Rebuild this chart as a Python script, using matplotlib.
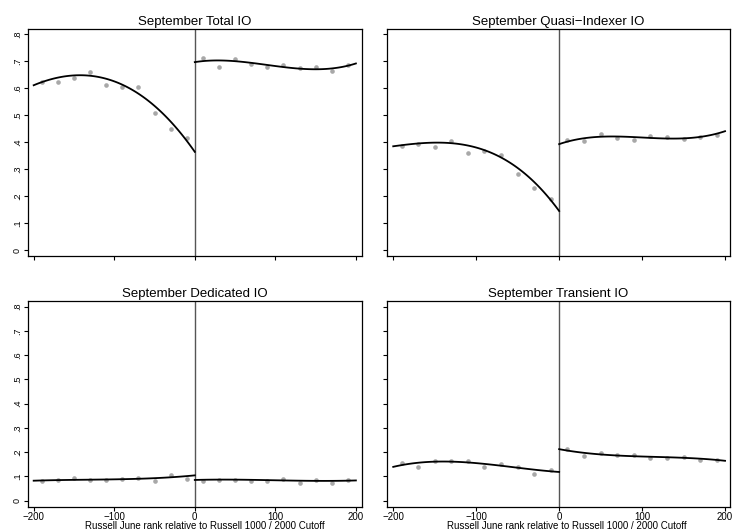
import numpy as np
import matplotlib
matplotlib.use("Agg")
import matplotlib.pyplot as plt

plt.rcParams['font.family'] = ['Liberation Sans', 'DejaVu Sans']

# bin centres (rank relative to cutoff)
x_left = [-190, -170, -150, -130, -110, -90, -70, -50, -30, -10]
x_right = [10, 30, 50, 70, 90, 110, 130, 150, 170, 190]

# binned means
total_left = [0.624, 0.624, 0.640, 0.661, 0.614, 0.606, 0.606, 0.509, 0.450, 0.414]
total_right = [0.711, 0.680, 0.710, 0.690, 0.680, 0.685, 0.674, 0.679, 0.664, 0.685]
quasi_left = [0.387, 0.394, 0.384, 0.404, 0.361, 0.368, 0.354, 0.282, 0.230, 0.190]
quasi_right = [0.410, 0.404, 0.429, 0.417, 0.408, 0.423, 0.419, 0.413, 0.420, 0.428]
ded_left = [0.081, 0.087, 0.093, 0.087, 0.084, 0.091, 0.095, 0.081, 0.107, 0.091]
ded_right = [0.082, 0.087, 0.087, 0.082, 0.082, 0.089, 0.073, 0.087, 0.074, 0.084]
trans_left = [0.154, 0.140, 0.162, 0.165, 0.162, 0.140, 0.151, 0.140, 0.111, 0.128]
trans_right = [0.214, 0.183, 0.198, 0.186, 0.186, 0.176, 0.177, 0.181, 0.166, 0.168]

# fitted line read at a few ranks
fit_x_left = [-200, -150, -100, -50, 0]
fit_x_right = [0, 50, 100, 150, 200]
total_fit_left = [0.612, 0.645, 0.630, 0.532, 0.365]
total_fit_right = [0.697, 0.701, 0.682, 0.671, 0.692]
quasi_fit_left = [0.386, 0.394, 0.387, 0.300, 0.146]
quasi_fit_right = [0.393, 0.420, 0.418, 0.414, 0.441]
ded_fit_left = [0.082, 0.086, 0.087, 0.093, 0.104]
ded_fit_right = [0.085, 0.087, 0.083, 0.082, 0.083]
trans_fit_left = [0.139, 0.161, 0.154, 0.136, 0.118]
trans_fit_right = [0.212, 0.191, 0.181, 0.177, 0.164]

titles = ["September Total IO", "September Quasi\u2212Indexer IO",
          "September Dedicated IO", "September Transient IO"]
xticks = [-200, -100, 0, 100, 200]
xtick_labels = ["\u2212200", "\u2212100", "0", "100", "200"]
yticks = [0, 0.1, 0.2, 0.3, 0.4, 0.5, 0.6, 0.7, 0.8]
ytick_labels = ["0", ".1", ".2", ".3", ".4", ".5", ".6", ".7", ".8"]
xlabel = "Russell June rank relative to Russell 1000 / 2000 Cutoff"

panels = [
    (total_left, total_right, total_fit_left, total_fit_right),
    (quasi_left, quasi_right, quasi_fit_left, quasi_fit_right),
    (ded_left, ded_right, ded_fit_left, ded_fit_right),
    (trans_left, trans_right, trans_fit_left, trans_fit_right),
]

fig = plt.figure(figsize=(7.32, 5.30), dpi=100)
boxes = [
    [0.0383, 0.5170, 0.4556, 0.4283],
    [0.5287, 0.5170, 0.4686, 0.4283],
    [0.0383, 0.0440, 0.4556, 0.3881],
    [0.5287, 0.0440, 0.4686, 0.3881],
]

for i, (box, title, data) in enumerate(zip(boxes, titles, panels)):
    ax = fig.add_axes(box)
    yl, yr, fl, fr = data
    ax.scatter(x_left, yl, s=11, color="#a8a8a8", zorder=2, linewidths=0)
    ax.scatter(x_right, yr, s=11, color="#a8a8a8", zorder=2, linewidths=0)
    gl = np.linspace(-200, 0, 100)
    gr = np.linspace(0, 200, 100)
    ax.plot(gl, np.polyval(np.polyfit(fit_x_left, fl, 3), gl), color="black", lw=1.3, zorder=3)
    ax.plot(gr, np.polyval(np.polyfit(fit_x_right, fr, 3), gr), color="black", lw=1.3, zorder=3)
    ax.axvline(0, color="#555555", lw=1.0, zorder=1)

    if i < 2:
        ax.set_ylim(-0.022, 0.82)
    else:
        ax.set_ylim(-0.025, 0.823)
    if i % 2 == 0:
        ax.set_xlim(-207, 207)
    else:
        ax.set_xlim(-207.5, 206)

    ax.set_title(title, fontsize=9.5, pad=3)
    ax.set_xticks(xticks)
    ax.set_yticks(yticks)
    if i >= 2:
        ax.set_xticklabels(xtick_labels, fontsize=7)
        # axis title squeezed in at the very bottom, as in the original
        cx = 0.530 if i == 2 else 0.525
        fig.text(box[0] + cx * box[2], 0.0019, xlabel, fontsize=7, ha="center", va="baseline")
    else:
        ax.set_xticklabels([])
    if i % 2 == 0:
        ax.set_yticklabels(ytick_labels, fontsize=6.5, rotation=90, va="center")
    else:
        ax.set_yticklabels([])
    ax.tick_params(direction="out", length=3, width=0.8, pad=1.5)
    ax.tick_params(axis="x", pad=0.5)
    for sp in ax.spines.values():
        sp.set_linewidth(0.9)

fig.savefig("out.png", dpi=100)
